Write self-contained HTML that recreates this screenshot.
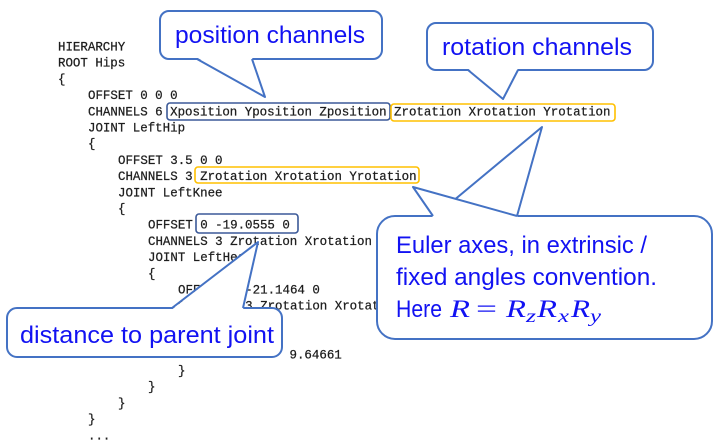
<!DOCTYPE html>
<html><head><meta charset="utf-8"><style>
html,body{margin:0;padding:0;background:#fff;}
svg{display:block;}
.c{font-family:"Liberation Mono",monospace;font-size:12.45px;fill:#1e1e1e;stroke:#1e1e1e;stroke-width:0.25;}
.t{font-family:"Liberation Sans",sans-serif;font-size:24px;fill:#1212f2;}
.m{font-family:"Liberation Serif",serif;font-style:italic;fill:#1212f2;}
</style></head><body>
<svg width="714" height="443" viewBox="0 0 714 443" xmlns="http://www.w3.org/2000/svg">
<rect width="714" height="443" fill="#fff"/>
<g class="c">
<text x="58" y="50.5">HIERARCHY</text>
<text x="58" y="66.7">ROOT Hips</text>
<text x="58" y="82.9">{</text>
<text x="88" y="99.1">OFFSET 0 0 0</text>
<text x="88" y="115.3">CHANNELS 6 Xposition Yposition Zposition Zrotation Xrotation Yrotation</text>
<text x="88" y="131.5">JOINT LeftHip</text>
<text x="88" y="147.7">{</text>
<text x="118" y="163.9">OFFSET 3.5 0 0</text>
<text x="118" y="180.1">CHANNELS 3 Zrotation Xrotation Yrotation</text>
<text x="118" y="196.3">JOINT LeftKnee</text>
<text x="118" y="212.5">{</text>
<text x="148" y="228.7">OFFSET 0 -19.0555 0</text>
<text x="148" y="244.9">CHANNELS 3 Zrotation Xrotation Yrotation</text>
<text x="148" y="261.1">JOINT LeftHeel</text>
<text x="148" y="277.3">{</text>
<text x="178" y="293.5">OFFSET 0 -21.1464 0</text>
<text x="178" y="309.7">CHANNELS 3 Zrotation Xrotation Yrotation</text>
<text x="178" y="325.9">End Site</text>
<text x="178" y="342.1">{</text>
<text x="289.5" y="358.3">9.64661</text>
<text x="178" y="374.5">}</text>
<text x="148" y="390.7">}</text>
<text x="118" y="406.9">}</text>
<text x="88" y="423.1">}</text>
<text x="88" y="439.3">...</text>
</g>
<!-- code highlight boxes -->
<g fill="none" stroke-width="1.6">
<rect x="167" y="103" width="223" height="17" rx="3" stroke="#3b5998"/>
<rect x="391" y="104" width="224" height="17" rx="3" stroke="#ffc000"/>
<rect x="195" y="167" width="224" height="16" rx="3" stroke="#ffc000"/>
<rect x="196" y="214" width="102" height="19" rx="3" stroke="#3b5998"/>
</g>
<g stroke="#4472c4" stroke-width="2" stroke-linejoin="round">
<!-- position channels callout -->
<rect x="160" y="11" width="222" height="48" rx="9" fill="#fff"/>
<polygon points="197,57.5 265,97 252,57.5" fill="#fff" stroke="none"/>
<polyline points="197,59 265,97 252,59" fill="none"/>
<!-- rotation channels callout -->
<rect x="427" y="23" width="226" height="47" rx="9" fill="#fff"/>
<polygon points="468,68.5 503,99 518,68.5" fill="#fff" stroke="none"/>
<polyline points="468,70 503,99 518,70" fill="none"/>
<!-- Euler callout -->
<rect x="377" y="216" width="335" height="123" rx="18" fill="#fff"/>
<polygon points="435,217.5 542,127 517,217.5" fill="#fff" stroke="none"/>
<polyline points="435,216 542,127 517,216" fill="none"/>
<polygon points="433,217.5 413,187 517,217.5" fill="#fff" stroke="none"/>
<polyline points="433,216 413,187 517,216" fill="none"/>
<!-- distance callout -->
<rect x="7" y="308" width="275" height="49" rx="10" fill="#fff"/>
<polygon points="172,309.5 258,242 243,309.5" fill="#fff" stroke="none"/>
<polyline points="172,308 258,242 243,308" fill="none"/>
</g>
<g class="t">
<text x="175" y="43" textLength="190" lengthAdjust="spacingAndGlyphs">position channels</text>
<text x="442" y="55" textLength="190" lengthAdjust="spacingAndGlyphs">rotation channels</text>
<text x="20" y="343" textLength="254" lengthAdjust="spacingAndGlyphs">distance to parent joint</text>
<text x="396" y="253" textLength="251" lengthAdjust="spacingAndGlyphs">Euler axes, in extrinsic /</text>
<text x="396" y="285" textLength="261" lengthAdjust="spacingAndGlyphs">fixed angles convention.</text>
<text x="396" y="317" textLength="46" lengthAdjust="spacingAndGlyphs">Here</text>
</g>
<g class="m" font-size="25">
<text x="450" y="317" textLength="20" lengthAdjust="spacingAndGlyphs">R</text>
<text x="476" y="317" style="font-style:normal" textLength="21" lengthAdjust="spacingAndGlyphs">=</text>
<text x="506" y="317" textLength="20" lengthAdjust="spacingAndGlyphs">R</text>
<text x="537" y="317" textLength="20" lengthAdjust="spacingAndGlyphs">R</text>
<text x="571" y="317" textLength="19" lengthAdjust="spacingAndGlyphs">R</text>
</g>
<g class="m" font-size="18">
<text x="526" y="322" textLength="10" lengthAdjust="spacingAndGlyphs">z</text>
<text x="558" y="322" textLength="11" lengthAdjust="spacingAndGlyphs">x</text>
<text x="590" y="322" textLength="11" lengthAdjust="spacingAndGlyphs">y</text>
</g>
</svg>
</body></html>
